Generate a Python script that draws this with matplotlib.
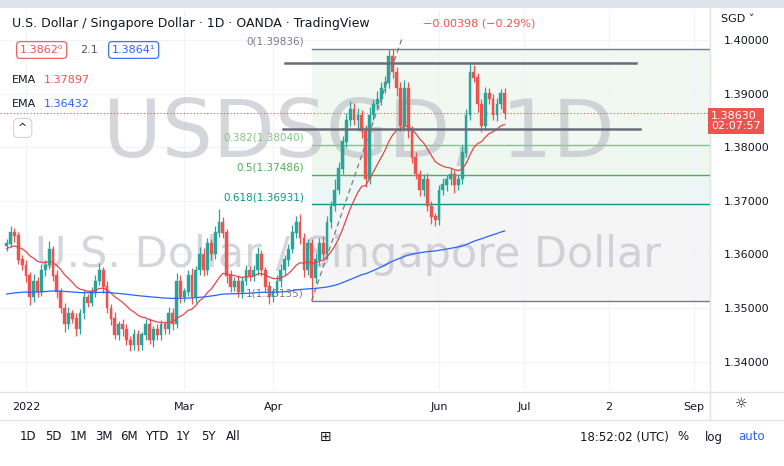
import numpy as np
import pandas as pd
import matplotlib.pyplot as plt
from matplotlib.patches import Rectangle

# daily closes, Dec 27 2021 .. Jun 24 2022 (index -5 .. 124)
closes = [1.3620, 1.3640, 1.3635, 1.3590, 1.3580,
          1.3560, 1.3520, 1.3550, 1.3530, 1.3570, 1.3580, 1.3610, 1.3560, 1.3530, 1.3500,
          1.3470, 1.3490, 1.3480, 1.3460, 1.3490, 1.3520, 1.3510, 1.3530, 1.3550, 1.3570,
          1.3540, 1.3500, 1.3480, 1.3450, 1.3470, 1.3460, 1.3440, 1.3430, 1.3450, 1.3430,
          1.3450, 1.3470, 1.3440, 1.3460, 1.3450, 1.3470, 1.3460, 1.3490, 1.3470, 1.3550,
          1.3520, 1.3530, 1.3560, 1.3520, 1.3570, 1.3600, 1.3570, 1.3620, 1.3600, 1.3640,
          1.3660, 1.3640, 1.3560, 1.3540, 1.3550, 1.3530, 1.3550, 1.3570, 1.3560, 1.3570,
          1.3600, 1.3570, 1.3540, 1.3520, 1.3530, 1.3550, 1.3570, 1.3590, 1.3610, 1.3640,
          1.3660, 1.3630, 1.3570, 1.3620, 1.3555, 1.3590, 1.3620, 1.3600, 1.3660, 1.3690,
          1.3720, 1.3760, 1.3810, 1.3850, 1.3870, 1.3850, 1.3860, 1.3830, 1.3740, 1.3860,
          1.3880, 1.3890, 1.3910, 1.3920, 1.3970, 1.3940, 1.3910, 1.3840, 1.3910, 1.3830,
          1.3780, 1.3750, 1.3720, 1.3740, 1.3690, 1.3670, 1.3665, 1.3720, 1.3730, 1.3740,
          1.3750, 1.3730, 1.3740, 1.3790, 1.3860, 1.3940, 1.3930, 1.3880, 1.3840, 1.3900,
          1.3890, 1.3860, 1.3880, 1.3900, 1.3863]
# wick lengths beyond the body, in pips (1e-4)
upper_wick = [8, 12, 10, 6, 9,
              10, 8, 14, 7, 12, 9, 15, 6, 10, 8,
              9, 12, 7, 10, 8, 14, 6, 9, 11, 13,
              7, 10, 8, 12, 6, 9, 10, 7, 11, 8,
              6, 9, 12, 7, 10, 8, 6, 11, 9, 15,
              12, 8, 10, 14, 9, 13, 11, 10, 8, 12,
              25, 9, 8, 10, 7, 12, 9, 11, 8, 10,
              13, 9, 7, 10, 8, 11, 12, 9, 10, 14,
              12, 15, 10, 9, 8, 12, 10, 14, 11, 9,
              20, 12, 10, 13, 16, 12, 14, 10, 12, 15,
              9, 14, 11, 12, 14, 14, 10, 12, 15, 12,
              9, 11, 8, 10, 12, 9, 8, 10, 12, 9,
              11, 8, 10, 14, 12, 15, 14, 9, 10, 12,
              10, 9, 11, 8, 10]
lower_wick = [9, 7, 12, 8, 10,
              12, 15, 9, 10, 8, 11, 7, 10, 12, 9,
              14, 10, 9, 12, 8, 10, 9, 7, 10, 8,
              12, 9, 11, 8, 10, 12, 9, 10, 8, 11,
              9, 10, 8, 12, 9, 10, 8, 9, 11, 7,
              10, 9, 8, 12, 10, 9, 11, 8, 10, 9,
              8, 9, 14, 10, 9, 10, 11, 8, 9, 10,
              9, 10, 11, 12, 9, 8, 10, 9, 11, 8,
              9, 10, 12, 8, 42, 9, 10, 11, 8, 10,
              9, 8, 10, 9, 11, 8, 20, 12, 15, 9,
              10, 8, 12, 9, 10, 11, 14, 10, 9, 12,
              10, 9, 11, 12, 10, 14, 12, 10, 9, 12,
              11, 15, 10, 9, 8, 10, 9, 14, 12, 8,
              9, 10, 12, 9, 11]

fib_ratios = [0, 0.382, 0.5, 0.618, 1]
fib_prices = [1.39836, 1.38040, 1.37486, 1.36931, 1.35135]
fib_colors = ['#787b86', '#81c784', '#4caf50', '#089981', '#787b86']
resistance_lines = [(67.0, 158.0, 1.3957), (66.5, 159.0, 1.3834)]  # x0, x1, price
last_price = 1.3863

dates = pd.bdate_range('2021-12-27', '2022-09-30')
idx = np.arange(len(dates)) - 5
n = len(closes)
cx = idx[:n]

c = np.array(closes)
o = np.concatenate([[1.3615], c[:-1]])
hi = np.maximum(o, c) + np.array(upper_wick) * 1e-4
lo = np.minimum(o, c) - np.array(lower_wick) * 1e-4

ema_red = pd.Series([1.3610] + closes).ewm(span=20, adjust=False).mean().values[1:]
ema_blue = pd.Series([1.3525] + closes).ewm(span=200, adjust=False).mean().values[1:]

W, H = 784, 466
fig = plt.figure(figsize=(7.84, 4.66), dpi=100)
fig.patch.set_facecolor('white')
ax = fig.add_axes([0, (H - 390) / H, 710 / W, 380 / H])
ax.set_facecolor('white')

px = 3.86
xl = -26 / px
ax.set_xlim(xl, xl + 710 / px)
ax.set_ylim(1.40 - 350 * 0.0001866, 1.40 + 30 * 0.0001866)

green, red = '#26a69a', '#ef5350'

# fib zones
fx0, fx1 = 74, xl + 710 / px
zone_cols = ['#f1f8f1', '#eef7ef', '#ecf6f4', '#f5f5f5']
for k in range(4):
    ax.add_patch(Rectangle((fx0, fib_prices[k + 1]), fx1 - fx0, fib_prices[k] - fib_prices[k + 1],
                           facecolor=zone_cols[k], edgecolor='none', zorder=0))
for r, p, col in zip(fib_ratios, fib_prices, fib_colors):
    ax.plot([fx0, fx1], [p, p], color=col, lw=1, zorder=1)
    ax.text(fx0 - 2, p + 0.0004, f'{r}({p:.5f})', color=col, fontsize=7.5,
            ha='right', va='bottom', zorder=5)

# grid
for p in np.arange(1.34, 1.4001, 0.01):
    ax.axhline(p, color='#f0f3fa', lw=0.8, zorder=0)
month_ticks = []
for lab, d in [('2022', '2022-01-03'), ('Mar', '2022-03-01'), ('Apr', '2022-04-01'),
               ('Jun', '2022-06-01'), ('Jul', '2022-07-01'), ('2', '2022-08-02'), ('Sep', '2022-09-01')]:
    month_ticks.append((idx[dates.get_loc(pd.Timestamp(d))], lab))
for x, lab in month_ticks:
    ax.axvline(x, color='#f0f3fa', lw=0.8, zorder=0)

# watermark
ax.text(0.505, 0.67, 'USDSGD, 1D', transform=ax.transAxes, fontsize=58, color='#b2b5be',
        alpha=0.55, ha='center', va='center', zorder=1)
ax.text(0.49, 0.355, 'U.S. Dollar / Singapore Dollar', transform=ax.transAxes, fontsize=31,
        color='#b2b5be', alpha=0.55, ha='center', va='center', zorder=1)

# candles
cols = np.where(c >= o, green, red)
ax.vlines(cx, lo, hi, colors=cols, lw=0.9, zorder=3)
ax.bar(cx, np.abs(c - o) + 0.00008, bottom=np.minimum(o, c), width=0.72, color=cols,
       edgecolor=cols, lw=0.3, zorder=4)

ax.plot(cx, ema_red, color='#e0474c', lw=0.9, zorder=4)
ax.plot(cx, ema_blue, color='#2962ff', lw=0.9, zorder=4)

# trend line of fib
ax.plot([74, 97.5], [1.35135, 1.4005], color='#787b86', lw=0.9, ls=(0, (4, 3)), zorder=5)
for x0, x1, p in resistance_lines:
    ax.plot([x0, x1], [p, p], color='#6a6d78', lw=1.8, zorder=5)

ax.axhline(last_price, color=red, lw=0.8, ls=(0, (1, 2)), zorder=2)

# axes styling
for s in ax.spines.values():
    s.set_visible(False)
ax.set_xticks([t for t, _ in month_ticks])
ax.set_xticklabels([l for _, l in month_ticks], fontsize=8, color='#131722')
ax.tick_params(axis='x', length=0, pad=9)
ax.yaxis.tick_right()
yt = np.arange(1.34, 1.4001, 0.01)
ax.set_yticks(yt)
ax.set_yticklabels([f'{v:.5f}' for v in yt], fontsize=8, color='#131722')
ax.tick_params(axis='y', length=0, pad=10)

# frame pieces
fig.add_artist(Rectangle((0, 1 - 8 / H), 1, 8 / H, transform=fig.transFigure,
                         facecolor='#e0e3eb', edgecolor='none'))
fig.add_artist(plt.Line2D([0, 1], [1 - 392 / H, 1 - 392 / H], color='#e0e3eb', lw=1))
fig.add_artist(plt.Line2D([0, 1], [1 - 420 / H, 1 - 420 / H], color='#e0e3eb', lw=1))
fig.add_artist(plt.Line2D([710 / W, 710 / W], [1 - 420 / H, 1 - 8 / H], color='#e0e3eb', lw=1))

def ft(x, y, s, **kw):
    kw.setdefault('fontsize', 8)
    kw.setdefault('color', '#131722')
    fig.text(x / W, 1 - y / H, s, va='center', **kw)

ft(12, 24, 'U.S. Dollar / Singapore Dollar · 1D · OANDA · TradingView', fontsize=9)
ft(423, 24, '−0.00398 (−0.29%)', color=red)
ft(721, 19, 'SGD ˅')
ft(20, 50, '1.3862⁰', color=red,
   bbox=dict(boxstyle='round,pad=0.3', fc='white', ec=red, lw=0.8))
ft(80, 50, '2.1', color='#50535e')
ft(112, 50, '1.3864¹', color='#2962ff',
   bbox=dict(boxstyle='round,pad=0.3', fc='white', ec='#2962ff', lw=0.8))
ft(12, 80, 'EMA')
ft(44, 80, '1.37897', color=red)
ft(12, 104, 'EMA')
ft(44, 104, '1.36432', color='#2962ff')
ft(18, 128, '^', fontsize=8,
   bbox=dict(boxstyle='round,pad=0.4', fc='white', ec='#d1d4dc', lw=0.8))

# last price tag
ft(711, 121, '1.38630\n02:07:57', color='white', fontsize=8, linespacing=1.0,
   bbox=dict(boxstyle='square,pad=0.3', fc=red, ec='none'))

# toolbar
x = 20
for lab in ['1D', '5D', '1M', '3M', '6M', 'YTD', '1Y', '5Y', 'All']:
    ft(x, 437, lab, fontsize=8.5)
    x += 25 if len(lab) < 3 else 31
ft(320, 437, '⊞', fontsize=10)
ft(580, 437, '18:52:02 (UTC)', fontsize=8.5)
ft(677, 437, '%', fontsize=8.5)
ft(705, 437, 'log', fontsize=8.5)
ft(738, 437, 'auto', fontsize=8.5, color='#2962ff')
ft(735, 404, '☼', fontsize=10)

fig.savefig('out.png', dpi=100)
